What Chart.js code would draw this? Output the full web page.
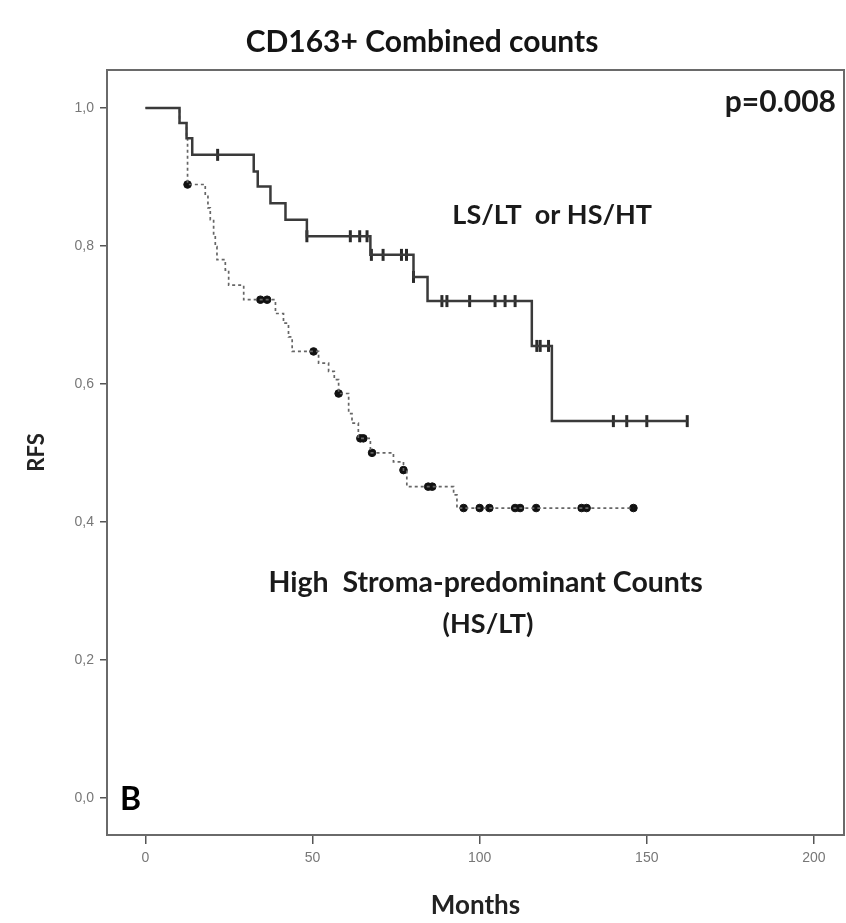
<!DOCTYPE html>
<html>
<head>
<meta charset="utf-8">
<script src="https://cdn.jsdelivr.net/npm/chart.js@4.4.1/dist/chart.umd.min.js"></script>
<style>
  html, body { margin: 0; padding: 0; background: #ffffff; }
  #wrap { width: 846px; height: 923px; }
</style>
</head>
<body>
<div id="wrap"><canvas id="c" width="846" height="923"></canvas></div>
<script>
// ---- Data ----
const xTickValues = [0, 50, 100, 150, 200];
const yTickValues = [0, 0.2, 0.4, 0.6, 0.8, 1.0];
const yTickLabels = ['0,0', '0,2', '0,4', '0,6', '0,8', '1,0'];

// LS/LT or HS/HT group (solid line)
const groupATimes = [0, 10.2, 12.3, 14.0, 32.4, 33.6, 37.4, 41.9, 48.3, 67.3, 80.2, 84.4, 115.6, 121.6, 162.1];
const groupASurv  = [1.0, 0.978, 0.956, 0.932, 0.908, 0.886, 0.862, 0.838, 0.814, 0.787, 0.755, 0.720, 0.655, 0.546, 0.546];
const groupACensTimes = [21.6, 48.3, 61.3, 64.1, 66.3, 67.6, 71.1, 76.6, 78.1, 80.2, 88.7, 90.2, 97.0, 104.6, 107.6, 110.6, 117.1, 118.1, 120.6, 140.0, 144.0, 150.0, 162.1];
const groupACensSurv  = [0.932, 0.814, 0.814, 0.814, 0.814, 0.787, 0.787, 0.787, 0.787, 0.755, 0.720, 0.720, 0.720, 0.720, 0.720, 0.720, 0.655, 0.655, 0.655, 0.546, 0.546, 0.546, 0.546];

// HS/LT group (dashed line)
const groupBTimes = [0, 10.2, 12.3, 12.6, 17.9, 18.7, 19.4, 20.4, 20.9, 21.4, 23.9, 24.9, 29.4, 38.9, 41.3, 42.8, 43.9, 51.8, 54.8, 56.5, 57.8, 60.8, 61.8, 63.7, 67.3, 74.2, 77.2, 78.2, 92.2, 93.2, 146.0];
const groupBSurv  = [1.0, 0.978, 0.956, 0.889, 0.872, 0.855, 0.838, 0.813, 0.799, 0.780, 0.765, 0.743, 0.722, 0.702, 0.688, 0.668, 0.647, 0.630, 0.618, 0.606, 0.586, 0.557, 0.543, 0.521, 0.500, 0.487, 0.475, 0.451, 0.439, 0.420, 0.420];
const groupBCensTimes = [12.6, 34.4, 36.4, 50.3, 57.8, 64.3, 65.2, 67.8, 77.2, 84.6, 85.8, 95.2, 100.0, 102.9, 110.6, 112.1, 116.9, 130.5, 132.0, 146.0];
const groupBCensSurv  = [0.889, 0.722, 0.722, 0.647, 0.586, 0.521, 0.521, 0.500, 0.475, 0.451, 0.451, 0.420, 0.420, 0.420, 0.420, 0.420, 0.420, 0.420, 0.420, 0.420];

const titleText = 'CD163+ Combined counts';
const xTitle = 'Months';
const yTitle = 'RFS';
const notes = [
  { text: 'p=0.008', x: 206.6, y: 1.008, align: 'right', size: 30 },
  { text: 'LS/LT  or HS/HT', x: 121.7, y: 0.845, align: 'center', size: 27 },
  { text: 'High  Stroma-predominant Counts', x: 101.8, y: 0.312, align: 'center', size: 28.5 },
  { text: '(HS/LT)', x: 102.5, y: 0.251, align: 'center', size: 27 }
];

function pts(xs, ys) { return xs.map((x, i) => ({ x: x, y: ys[i] })); }

const FONT = 'Lato, "Open Sans", sans-serif';

const boxPlugin = {
  id: 'boxPlugin',
  afterDatasetsDraw(chart) {
    const { ctx, chartArea: a, scales } = chart;
    ctx.save();
    ctx.strokeStyle = '#6a6a6a';
    ctx.lineWidth = 2;
    ctx.strokeRect(a.left, a.top, a.right - a.left, a.bottom - a.top);
    ctx.fillStyle = '#1a1a1a';
    ctx.textBaseline = 'middle';
    notes.forEach(n => {
      ctx.font = 'bold ' + n.size + 'px ' + FONT;
      ctx.textAlign = n.align;
      ctx.fillText(n.text, scales.x.getPixelForValue(n.x), scales.y.getPixelForValue(n.y));
    });
    ctx.font = 'bold 32px ' + FONT;
    ctx.textAlign = 'left';
    ctx.fillStyle = '#000';
    ctx.fillText('B', a.left + 13, a.bottom - 35);
    ctx.restore();
  }
};

new Chart(document.getElementById('c'), {
  type: 'line',
  data: {
    datasets: [
      {
        label: 'LS/LT or HS/HT',
        data: pts(groupATimes, groupASurv),
        stepped: true,
        borderColor: '#3a3a3a',
        borderWidth: 2.5,
        pointRadius: 0,
        fill: false
      },
      {
        label: 'HS/LT',
        data: pts(groupBTimes, groupBSurv),
        stepped: true,
        borderColor: '#666',
        borderWidth: 1.7,
        borderDash: [3, 3],
        pointRadius: 0,
        fill: false
      },
      {
        label: 'A censored',
        type: 'scatter',
        data: pts(groupACensTimes, groupACensSurv),
        pointStyle: 'line',
        rotation: 90,
        pointRadius: 6,
        borderWidth: 3,
        borderColor: '#2a2a2a',
        showLine: false
      },
      {
        label: 'B censored',
        type: 'scatter',
        data: pts(groupBCensTimes, groupBCensSurv),
        pointStyle: 'circle',
        pointRadius: 3.8,
        backgroundColor: '#111',
        borderColor: '#111',
        borderWidth: 1,
        showLine: false
      }
    ]
  },
  options: {
    responsive: false,
    animation: false,
    devicePixelRatio: 1,
    layout: { autoPadding: false, padding: { left: 0, right: 2, top: 0, bottom: 0 } },
    plugins: {
      legend: { display: false },
      tooltip: { enabled: false },
      title: {
        display: true,
        text: titleText,
        color: '#141414',
        font: { family: FONT, size: 30, weight: 'bold' },
        padding: { top: 24, bottom: 10 }
      }
    },
    scales: {
      x: {
        type: 'linear',
        min: -11.5,
        max: 209,
        afterBuildTicks: s => { s.ticks = xTickValues.map(v => ({ value: v })); },
        afterFit: s => { s.height = 88; s.paddingLeft = 0; s.paddingRight = 0; },
        grid: { display: true, drawOnChartArea: false, drawTicks: true, tickLength: 9, color: '#555', lineWidth: 1.5 },
        border: { display: false },
        ticks: { color: '#777', font: { family: '"Liberation Sans", Arial, sans-serif', size: 14 }, padding: 6, maxRotation: 0 },
        title: { display: true, text: xTitle, color: '#222', font: { family: FONT, size: 26, weight: 'bold' }, padding: { top: 0, bottom: 2 } }
      },
      y: {
        type: 'linear',
        min: -0.054,
        max: 1.055,
        afterBuildTicks: s => { s.ticks = yTickValues.map(v => ({ value: v })); },
        afterFit: s => { s.width = 107; s.paddingTop = 0; s.paddingBottom = 0; },
        grid: { display: true, drawOnChartArea: false, drawTicks: true, tickLength: 7, color: '#555', lineWidth: 1.5 },
        border: { display: false },
        ticks: {
          color: '#777',
          font: { family: '"Liberation Sans", Arial, sans-serif', size: 14 },
          padding: 6,
          callback: (v) => { const i = yTickValues.findIndex(t => Math.abs(t - v) < 1e-9); return i >= 0 ? yTickLabels[i] : ''; }
        },
        title: { display: true, text: yTitle, color: '#222', font: { family: FONT, size: 22, weight: 'bold' }, padding: { top: 24, bottom: 0 } }
      }
    }
  },
  plugins: [boxPlugin]
});
</script>
</body>
</html>
